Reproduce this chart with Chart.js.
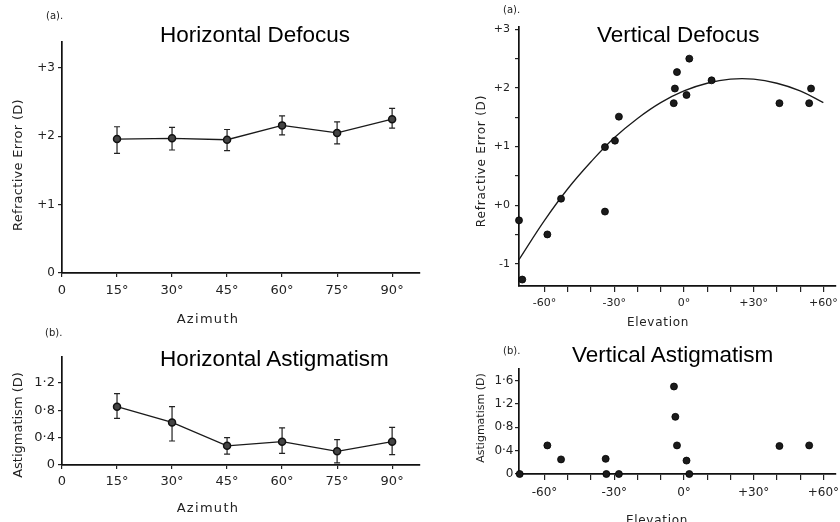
<!DOCTYPE html>
<html>
<head>
<meta charset="utf-8">
<script src="https://cdn.jsdelivr.net/npm/chart.js@4.4.1/dist/chart.umd.min.js"></script>
<style>
  html, body { margin: 0; padding: 0; background: #fff; }
  #wrap { position: relative; width: 840px; height: 522px; overflow: hidden; background: #fff; }
  canvas { position: absolute; left: 0; top: 0; }
  .t { position: absolute; white-space: nowrap; color: #222; font-family: "DejaVu Sans", sans-serif; }
  .title { font-family: "Liberation Sans", Arial, sans-serif; font-size: 22.5px; line-height: 22.5px; color: #000; }
  .tag { font-size: 10px; line-height: 10px; }
  .ax { width: 200px; height: 16px; line-height: 16px; text-align: center; }
  .rot { transform: rotate(-90deg); }
</style>
</head>
<body>
<div id="wrap">
  <canvas id="hDefocusChart" width="840" height="522"></canvas>
  <canvas id="hAstigChart" width="840" height="522"></canvas>
  <canvas id="vDefocusChart" width="840" height="522"></canvas>
  <canvas id="vAstigChart" width="840" height="522"></canvas>

  <div class="t tag" style="left:46px;top:11px">(a).</div>
  <div class="t tag" style="left:503px;top:5px">(a).</div>
  <div class="t tag" style="left:45px;top:328px">(b).</div>
  <div class="t tag" style="left:503px;top:346px">(b).</div>

  <div class="t title" style="left:160px;top:23.6px">Horizontal Defocus</div>
  <div class="t title" style="left:597px;top:24.3px">Vertical Defocus</div>
  <div class="t title" style="left:160px;top:347.6px">Horizontal Astigmatism</div>
  <div class="t title" style="left:572px;top:344.3px">Vertical Astigmatism</div>

  <div class="t ax rot" style="left:-82px;top:157px;font-size:13px;letter-spacing:0.3px">Refractive Error (D)</div>
  <div class="t ax" style="left:108px;top:311px;font-size:13px;letter-spacing:1.3px">Azimuth</div>
  <div class="t ax rot" style="left:-82px;top:417px;font-size:13px">Astigmatism (D)</div>
  <div class="t ax" style="left:108px;top:500px;font-size:13px;letter-spacing:1.3px">Azimuth</div>
  <div class="t ax rot" style="left:381px;top:153px;font-size:12px;letter-spacing:0.8px">Refractive Error (D)</div>
  <div class="t ax" style="left:558px;top:314px;font-size:12px;letter-spacing:0.7px">Elevation</div>
  <div class="t ax rot" style="left:381px;top:410px;font-size:11px">Astigmatism (D)</div>
  <div class="t ax" style="left:557px;top:512px;font-size:12px;letter-spacing:0.7px">Elevation</div>
</div>

<script>
  // Horizontal meridian (azimuth), means with error bar ends
  const azimuth = [15, 30, 45, 60, 75, 90];
  const hDefocus = [1.96, 1.97, 1.95, 2.16, 2.05, 2.25];
  const hDefocusHigh = [2.14, 2.13, 2.10, 2.30, 2.21, 2.41];
  const hDefocusLow = [1.75, 1.80, 1.79, 2.02, 1.89, 2.12];
  const hAstig = [0.85, 0.62, 0.28, 0.34, 0.20, 0.34];
  const hAstigHigh = [1.04, 0.85, 0.40, 0.54, 0.37, 0.55];
  const hAstigLow = [0.68, 0.35, 0.16, 0.17, 0.03, 0.15];

  // Vertical meridian (elevation), individual points
  const vDefElev = [-71.0, -69.6, -58.8, -52.9, -34.0, -34.0, -29.7, -28.0, -4.4, -3.9, -3.0, 1.1, 2.3, 11.9, 41.1, 53.9, 54.7];
  const vDefocus = [-0.26, -1.27, -0.50, 0.11, 0.99, -0.11, 1.10, 1.51, 1.74, 1.99, 2.27, 1.88, 2.50, 2.13, 1.74, 1.74, 1.99];
  // fitted curve
  const fitElev = [-71, -60, -50, -40, -30, -20, -10, 0, 10, 20, 30, 40, 50, 60];
  const fitDefocus = [-0.93, -0.26, 0.28, 0.74, 1.15, 1.48, 1.75, 1.95, 2.08, 2.15, 2.15, 2.08, 1.95, 1.75];
  const vAstElev = [-70.7, -58.8, -52.9, -33.7, -33.4, -28.0, -4.3, -3.7, -3.0, 1.1, 2.3, 41.1, 53.9];
  const vAstig = [0, 0.49, 0.25, 0.26, 0, 0, 1.50, 0.98, 0.49, 0.23, 0, 0.48, 0.49];

  // tick values and labels
  const azTicks = [0, 15, 30, 45, 60, 75, 90];
  const azTickLabels = ["0", "15°", "30°", "45°", "60°", "75°", "90°"];
  const hDefTicks = [0, 1, 2, 3];
  const hDefTickLabels = ["0", "+1", "+2", "+3"];
  const hAstTicks = [0, 0.4, 0.8, 1.2];
  const hAstTickLabels = ["0", "0·4", "0·8", "1·2"];
  const elevTicks = [-60, -50, -40, -30, -20, -10, 0, 10, 20, 30, 40, 50, 60];
  const elevTickLabels = ["-60°", "", "", "-30°", "", "", "0°", "", "", "+30°", "", "", "+60°"];
  const vDefTicks = [-1, -0.5, 0, 0.5, 1, 1.5, 2, 2.5, 3];
  const vDefTickLabels = ["-1", "", "+0", "", "+1", "", "+2", "", "+3"];
  const vAstTicks = [0, 0.4, 0.8, 1.2, 1.6];
  const vAstTickLabels = ["0", "0·4", "0·8", "1·2", "1·6"];

  const W = 840, H = 522, BOX = 40;

  function toPoints(xs, ys) {
    return xs.map((x, i) => ({ x: x, y: ys[i] }));
  }

  // error bars drawn through the chart's own scales
  const errorBars = {
    id: "errorBars",
    beforeDatasetsDraw(chart, args, opts) {
      if (!opts.xs) return;
      const ctx = chart.ctx, x = chart.scales.x, y = chart.scales.y;
      ctx.save();
      ctx.strokeStyle = "#222";
      ctx.lineWidth = 1.2;
      opts.xs.forEach((v, i) => {
        const px = x.getPixelForValue(v);
        const top = y.getPixelForValue(opts.high[i]);
        const bot = y.getPixelForValue(opts.low[i]);
        ctx.beginPath();
        ctx.moveTo(px, top); ctx.lineTo(px, bot);
        ctx.moveTo(px - 3, top); ctx.lineTo(px + 3, top);
        ctx.moveTo(px - 3, bot); ctx.lineTo(px + 3, bot);
        ctx.stroke();
      });
      ctx.restore();
    }
  };

  function axis(min, max, values, labels, fontSize, tickLength, padding) {
    return {
      type: "linear",
      min: min,
      max: max,
      afterBuildTicks: s => { s.ticks = values.map(v => ({ value: v })); },
      afterFit: s => {
        if (s.isHorizontal()) s.height = BOX; else s.width = BOX;
        s.paddingLeft = s.paddingRight = s.paddingTop = s.paddingBottom = 0;
      },
      grid: { drawOnChartArea: false, tickLength: tickLength, color: "#222", lineWidth: 1.2 },
      border: { color: "#111", width: 1.7 },
      ticks: {
        autoSkip: false,
        maxRotation: 0,
        padding: padding,
        color: "#222",
        font: { family: "DejaVu Sans", size: fontSize },
        callback: (v, i) => labels[i]
      }
    };
  }

  // area = [left, top, right, bottom] of the plot box in page pixels
  function baseOptions(area, xAxis, yAxis, bars) {
    return {
      responsive: false,
      animation: false,
      events: [],
      layout: { padding: { left: area[0] - BOX, top: area[1], right: W - area[2], bottom: H - area[3] - BOX } },
      scales: { x: xAxis, y: yAxis },
      plugins: { legend: { display: false }, tooltip: { enabled: false }, errorBars: bars || {} }
    };
  }

  const meanLine = {
    showLine: true,
    clip: false,
    borderColor: "#1a1a1a",
    borderWidth: 1.3,
    pointRadius: 3.5,
    pointBackgroundColor: "#444",
    pointBorderColor: "#111",
    pointBorderWidth: 1.5
  };
  const dots = {
    clip: false,
    pointRadius: 3.5,
    pointBackgroundColor: "#1b1b1b",
    pointBorderColor: "#000",
    pointBorderWidth: 0.8
  };

  /* Horizontal defocus */
  new Chart(document.getElementById("hDefocusChart"), {
    type: "scatter",
    data: { datasets: [Object.assign({ data: toPoints(azimuth, hDefocus) }, meanLine)] },
    options: baseOptions([62, 42, 420, 273],
      axis(0, 97.6, azTicks, azTickLabels, 13, 4, 6),
      axis(0, 3.38, hDefTicks, hDefTickLabels, 12, 4, 3),
      { xs: azimuth, high: hDefocusHigh, low: hDefocusLow }),
    plugins: [errorBars]
  });

  /* Horizontal astigmatism */
  new Chart(document.getElementById("hAstigChart"), {
    type: "scatter",
    data: { datasets: [Object.assign({ data: toPoints(azimuth, hAstig) }, meanLine)] },
    options: baseOptions([62, 357, 420, 465],
      axis(0, 97.6, azTicks, azTickLabels, 13, 4, 5),
      axis(0, 1.575, hAstTicks, hAstTickLabels, 13, 4, 3),
      { xs: azimuth, high: hAstigHigh, low: hAstigLow }),
    plugins: [errorBars]
  });

  /* Vertical defocus with fitted curve */
  new Chart(document.getElementById("vDefocusChart"), {
    type: "scatter",
    data: {
      datasets: [
        Object.assign({ data: toPoints(vDefElev, vDefocus) }, dots),
        {
          data: toPoints(fitElev, fitDefocus),
          showLine: true,
          tension: 0.4,
          borderColor: "#1a1a1a",
          borderWidth: 1.3,
          pointRadius: 0
        }
      ]
    },
    options: baseOptions([519, 27, 837, 286],
      axis(-71, 65.1, elevTicks, elevTickLabels, 11, 6, 4.4),
      axis(-1.38, 3.04, vDefTicks, vDefTickLabels, 11, 4, 5)),
    plugins: [errorBars]
  });

  /* Vertical astigmatism */
  new Chart(document.getElementById("vAstigChart"), {
    type: "scatter",
    data: { datasets: [Object.assign({ data: toPoints(vAstElev, vAstig) }, dots)] },
    options: baseOptions([519, 369, 837, 474],
      axis(-71, 65.1, elevTicks, elevTickLabels, 12, 6, 5.8),
      axis(0, 1.8, vAstTicks, vAstTickLabels, 12, 4, 1.5)),
    plugins: [errorBars]
  });
</script>
</body>
</html>
